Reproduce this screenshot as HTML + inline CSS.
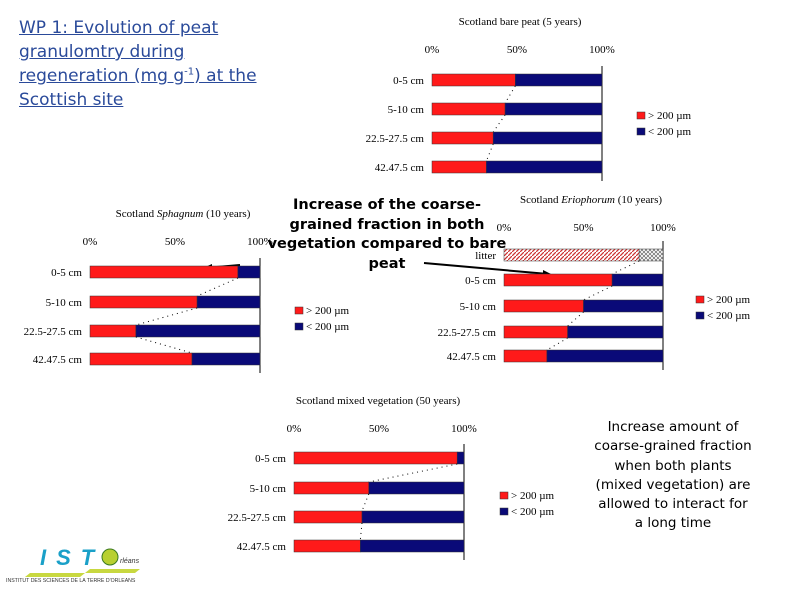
<!DOCTYPE html>
<html><head><meta charset="utf-8"><style>
body{margin:0;background:#fff;}
#wrap{position:relative;width:791px;height:597px;overflow:hidden;background:#fff;font-family:"Liberation Serif",serif;}
.t{position:absolute;font-family:"DejaVu Sans","Liberation Sans",sans-serif;}
sup{line-height:0;}
</style></head><body>
<div id="wrap">
<div class="t" style="left:19px;top:16px;width:270px;font-size:17px;line-height:24px;color:#2a4a9a;text-decoration:underline;">WP 1: Evolution of peat granulomtry during regeneration (mg g<sup style="font-size:10px">-1</sup>) at the Scottish  site</div>
<div class="t" style="left:262px;top:196px;width:250px;text-align:center;font-size:14.5px;line-height:19.5px;font-weight:bold;color:#000;">Increase of the coarse-grained fraction in both vegetation compared to bare peat</div>
<div class="t" style="left:560px;top:418px;width:226px;text-align:center;font-size:13.5px;line-height:19.3px;color:#000;white-space:nowrap;">Increase amount of<br>coarse-grained fraction<br>when both plants<br>(mixed vegetation) are<br>allowed to interact for<br>a long time</div>
<svg id="svg" width="791" height="597" style="position:absolute;left:0;top:0">
<defs>
<pattern id="hatch" width="4" height="4" patternUnits="userSpaceOnUse"><rect width="4" height="4" fill="#fff"/><path d="M-1,5 L5,-1" stroke="#c33" stroke-width="1.3"/></pattern>
<pattern id="cross" width="4" height="4" patternUnits="userSpaceOnUse"><rect width="4" height="4" fill="#fff"/><path d="M0,4 L4,0 M0,0 L4,4" stroke="#666" stroke-width="0.7"/></pattern>
</defs>
<g id="logo">
<text x="40" y="565" font-family="Liberation Sans" font-style="italic" font-weight="bold" font-size="22" fill="#1aa0c8" letter-spacing="10">IST</text>
<circle cx="110" cy="557" r="8" fill="#b8d030" stroke="#3a7a20"/>
<text x="120" y="563" font-family="Liberation Sans" font-style="italic" font-size="7" fill="#333">rléans</text>
<polygon points="30,573 85,573 80,577 25,577" fill="#c8d840"/>
<polygon points="90,569 140,569 135,573 85,573" fill="#c8d840"/>
<text x="6" y="582" font-family="Liberation Sans" font-size="5.2" fill="#333">INSTITUT DES SCIENCES DE LA TERRE D'ORLEANS</text>
</g>
<line x1="205" y1="268" x2="240" y2="265" stroke="#000" stroke-width="2"/>
<polygon points="203,268 212,264 212,272" fill="#000"/>
<line x1="424" y1="263" x2="548" y2="274" stroke="#000" stroke-width="2"/>
<polygon points="553,275 543,270 543,278" fill="#000"/>
</svg>
</div>
<script>
const catsA=["0-5 cm","5-10 cm","22.5-27.5 cm","42.47.5 cm"];
const bareCoarse=[49,43,36,32];
const sphagCoarse=[87,63,27,60];
const erioCoarse=[68,50,40,27];
const erioLitter=[85];
const mixedCoarse=[96,44,40,39];
const ticks=["0%","50%","100%"];
const legendLabels=["> 200 \u00b5m","< 200 \u00b5m"];
const NS="http://www.w3.org/2000/svg";
const svg=document.getElementById('svg');
function mk(tag,at,txt){const e=document.createElementNS(NS,tag);for(const k in at)e.setAttribute(k,at[k]);if(txt!==undefined)e.textContent=txt;svg.appendChild(e);return e;}
function chart(c){
  const sx=v=>c.x0+(c.x1-c.x0)*v/100;
  const tt=mk('text',{x:c.tx,y:c.ty,'text-anchor':'middle','font-size':11,'font-family':'Liberation Serif'});
  
  
  c.title.forEach(p=>{const s=document.createElementNS(NS,'tspan');s.textContent=p[0];if(p[1])s.setAttribute('font-style','italic');tt.appendChild(s);});
  ticks.forEach((t,i)=>{const e=mk('text',{x:sx(i*50),y:c.tickY,'text-anchor':'middle','font-size':11,'font-family':'Liberation Serif'},t);
    
    });
  const rows=c.cats.length;
  const top=c.rowY[0]-14,bot=c.rowY[rows-1]+14;
  const ax=mk('line',{x1:c.x1,y1:top,x2:c.x1,y2:bot,stroke:'#000','stroke-width':1});
  
  
  c.cats.forEach((cat,i)=>{
    const y=c.rowY[i],h=12;
    const l=mk('text',{x:c.x0-8,y:y+4,'text-anchor':'end','font-size':11,'font-family':'Liberation Serif'},cat);
    
    
    let v=c.vals[i],f1='#ff1a1a',f2='#0a0a78';
    if(c.litter&&i===0){f1='url(#hatch)';f2='url(#cross)';}
    const r1=mk('rect',{x:c.x0,y:y-h/2,width:sx(v)-c.x0,height:h,fill:f1,stroke:'#333','stroke-width':0.5});
    
    
    const r2=mk('rect',{x:sx(v),y:y-h/2,width:c.x1-sx(v),height:h,fill:f2,stroke:'#333','stroke-width':0.5});
    
    
    if(i<rows-1){const v2=c.vals[i+1];
      const d=mk('line',{x1:sx(v),y1:y+h/2,x2:sx(v2),y2:c.rowY[i+1]-h/2,stroke:'#000','stroke-width':1,'stroke-dasharray':'1,4'});
      
      }
  });
  legendLabels.forEach((t,i)=>{const y=c.ly+i*16;
    const s=mk('rect',{x:c.lx,y:y-6,width:8,height:7,fill:i?'#0a0a78':'#ff1a1a',stroke:'#333','stroke-width':0.5});
    
    
    const e=mk('text',{x:c.lx+11,y:y+1,'font-size':11,'font-family':'Liberation Serif'},t);
    
    });
}
chart({name:'bare-peat',cats:catsA,vals:bareCoarse,x0:432,x1:602,rowY:[80,109,138,167],tx:520,ty:25,title:[["Scotland bare peat (5 years)"]],tickY:53,lx:637,ly:118});
chart({name:'sphagnum',cats:catsA,vals:sphagCoarse,x0:90,x1:260,rowY:[272,302,331,359],tx:183,ty:217,title:[["Scotland "],["Sphagnum",1],[" (10 years)"]],tickY:245,lx:295,ly:313});
chart({name:'eriophorum',cats:["litter"].concat(catsA),vals:erioLitter.concat(erioCoarse),litter:true,x0:504,x1:663,rowY:[255,280,306,332,356],tx:591,ty:203,title:[["Scotland "],["Eriophorum",1],[" (10 years)"]],tickY:231,lx:696,ly:302});
chart({name:'mixed-vegetation',cats:catsA,vals:mixedCoarse,x0:294,x1:464,rowY:[458,488,517,546],tx:378,ty:404,title:[["Scotland mixed vegetation (50 years)"]],tickY:432,lx:500,ly:498});
</script>
</body></html>
